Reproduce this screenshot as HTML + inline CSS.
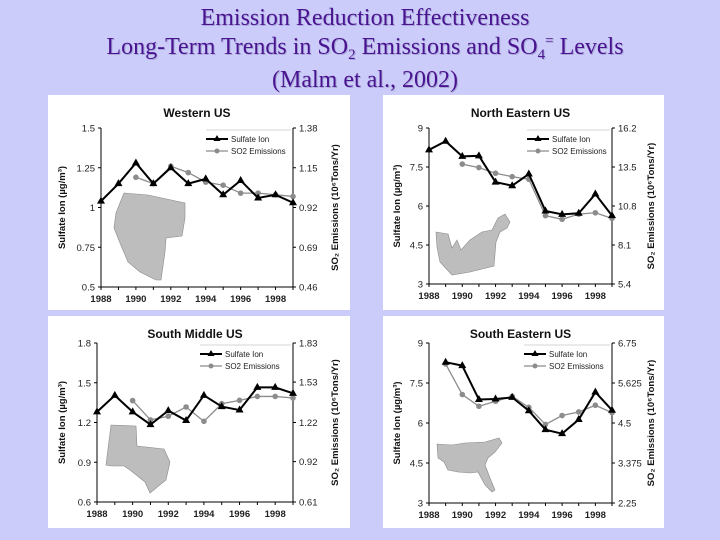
<!DOCTYPE html>
<html><head><meta charset="utf-8"><style>
html,body{margin:0;padding:0;background:#ccccfa;}
#wrap{position:relative;width:720px;height:540px;overflow:hidden;background:#ccccfa;}
.t{position:absolute;left:0;width:730px;height:28px;text-align:center;font-family:"Liberation Serif",serif;font-size:24px;line-height:28px;color:#4a1490;text-shadow:1px 1px 0 #a8a8d8;}
.t .sb{font-size:15px;position:relative;vertical-align:baseline;line-height:0;top:5px;}
.t .sp{font-size:15px;position:relative;vertical-align:baseline;line-height:0;top:-9px;}
svg text{font-family:"Liberation Sans",sans-serif;}
</style></head><body>
<div id="wrap">
<div class="t" style="top:4px">Emission Reduction Effectiveness</div>
<div class="t" style="top:33px">Long-Term Trends in SO<span class="sb">2</span> Emissions and SO<span class="sb">4</span><span class="sp">=</span> Levels</div>
<div class="t" style="top:66px">(Malm et al., 2002)</div>
<svg id="chart" width="720" height="540" style="position:absolute;left:0;top:0"></svg>
</div>
<script>
const years=[1988,1989,1990,1991,1992,1993,1994,1995,1996,1997,1998,1999];
const xTicks=[1988,1990,1992,1994,1996,1998];
// Western
const wSulfate=[1.04,1.15,1.28,1.15,1.25,1.15,1.18,1.08,1.17,1.06,1.08,1.03];
const wSO2=[null,null,1.095,1.058,1.159,1.122,1.067,1.049,1.003,1.003,0.994,0.984];
const wLeftTicks=[0.5,0.75,1,1.25,1.5];
const wRightTicks=[0.46,0.69,0.92,1.15,1.38];
// North Eastern
const neSulfate=[8.16,8.49,7.91,7.93,6.92,6.78,7.23,5.81,5.68,5.72,6.46,5.63];
const neSO2=[null,null,13.70,13.46,13.07,12.83,12.65,10.13,9.88,10.24,10.33,9.94];
const neLeftTicks=[3,4.5,6,7.5,9];
const neRightTicks=[5.4,8.1,10.8,13.5,16.2];
// South Middle
const smSulfate=[1.28,1.405,1.28,1.184,1.29,1.215,1.405,1.32,1.294,1.465,1.465,1.42];
const smSO2=[null,null,1.388,1.240,1.268,1.339,1.229,1.364,1.390,1.420,1.420,1.408];
const smLeftTicks=[0.6,0.9,1.2,1.5,1.8];
const smRightTicks=[0.61,0.92,1.22,1.53,1.83];
// South Eastern
const seSulfate=[null,8.28,8.15,6.88,6.9,6.96,6.46,5.75,5.6,6.13,7.16,6.48];
const seSO2=[null,6.16,5.30,4.97,5.11,5.25,4.94,4.46,4.71,4.81,5.00,4.79];
const seLeftTicks=[3,4.5,6,7.5,9];
const seRightTicks=[2.25,3.375,4.5,5.625,6.75];

const NS="http://www.w3.org/2000/svg";
const svg=document.getElementById('chart');
function mk(tag,attrs,parent){const e=document.createElementNS(NS,tag);for(const k in attrs)e.setAttribute(k,attrs[k]);(parent||svg).appendChild(e);return e;}
function txt(s,attrs,parent){const e=mk('text',attrs,parent);e.textContent=s;return e;}

function panel(o){
  const g=mk('g',{});
  
  
  const bg=mk('rect',{x:o.bx,y:o.by,width:o.bw,height:o.bh,fill:'#fff'},g);
  
  
  const L=o.x0,R=o.x1,T=o.y0,B=o.y1;
  const lmin=o.lt[0],lmax=o.lt[o.lt.length-1],rmin=o.rt[0],rmax=o.rt[o.rt.length-1];
  const xs=y=>L+(y-1988)/(1999-1988)*(R-L);
  const yl=v=>B-(v-lmin)/(lmax-lmin)*(B-T);
  const yr=v=>B-(v-rmin)/(rmax-rmin)*(B-T);
  const m=mk('polygon',{points:o.map,fill:'#bdbdbd',stroke:'#8a8a8a','stroke-width':0.6},g);
  
  
  const tt=txt(o.title,{x:(L+R)/2,y:o.by+22,'text-anchor':'middle','font-size':12,'font-weight':'bold',fill:'#111'},g);
  
  
  mk('line',{x1:L,y1:T,x2:L,y2:B,stroke:'#000','stroke-width':1},g);
  mk('line',{x1:R,y1:T,x2:R,y2:B,stroke:'#000','stroke-width':1},g);
  mk('line',{x1:L,y1:B,x2:R,y2:B,stroke:'#000','stroke-width':1},g);
  o.lt.forEach(v=>{const y=yl(v);mk('line',{x1:L-3,y1:y,x2:L,y2:y,stroke:'#000'},g);
    const e=txt(String(v),{x:L-6,y:y+3.5,'text-anchor':'end','font-size':9.5,fill:'#222'},g);
    });
  o.rt.forEach(v=>{const y=yr(v);mk('line',{x1:R,y1:y,x2:R+3,y2:y,stroke:'#000'},g);
    const e=txt(String(v),{x:R+6,y:y+3.5,'font-size':9.5,fill:'#222'},g);
    });
  years.forEach(yv=>{mk('line',{x1:xs(yv),y1:B,x2:xs(yv),y2:B+3,stroke:'#000'},g);});
  xTicks.forEach(yv=>{const e=txt(String(yv),{x:xs(yv),y:B+15,'text-anchor':'middle','font-size':9.5,'font-weight':'bold',fill:'#222'},g);
    });
  const ly=txt('Sulfate Ion (\u00b5g/m\u00b3)',{transform:`translate(${o.ylx},${(T+B)/2}) rotate(-90)`,'text-anchor':'middle','font-size':9.5,'font-weight':'bold',fill:'#111'},g);
  
  const ry=txt('SO\u2082 Emissions (10\u2076Tons/Yr)',{transform:`translate(${o.yrx},${(T+B)/2}) rotate(-90)`,'text-anchor':'middle','font-size':9.5,'font-weight':'bold',fill:'#111'},g);
  
  let pts=[];o.so2.forEach((v,i)=>{if(v!=null)pts.push([xs(years[i]),yr(v)]);});
  const sl=mk('polyline',{points:pts.map(p=>p.join(',')).join(' '),fill:'none',stroke:'#8c8c8c','stroke-width':1.3},g);
  
  pts.forEach(p=>{const c=mk('circle',{cx:p[0],cy:p[1],r:2.8,fill:'#8c8c8c'},g);
    });
  pts=[];o.sul.forEach((v,i)=>{if(v!=null)pts.push([xs(years[i]),yl(v)]);});
  const bl=mk('polyline',{points:pts.map(p=>p.join(',')).join(' '),fill:'none',stroke:'#000','stroke-width':2},g);
  
  pts.forEach(p=>{const c=mk('polygon',{points:`${p[0]},${p[1]-4.5} ${p[0]-4},${p[1]+2.5} ${p[0]+4},${p[1]+2.5}`,fill:'#000'},g);
    });
  const lx=o.lgx,lyy=T+6;
  const lg=mk('g',{},g);
  
  mk('line',{x1:lx,y1:T+2,x2:R-2,y2:T+2,stroke:'#aaa','stroke-width':0.6},lg);
  mk('line',{x1:lx,y1:lyy+5,x2:lx+22,y2:lyy+5,stroke:'#000','stroke-width':2},lg);
  mk('polygon',{points:`${lx+11},${lyy+1} ${lx+7.5},${lyy+7} ${lx+14.5},${lyy+7}`,fill:'#000'},lg);
  txt('Sulfate Ion',{x:lx+25,y:lyy+8,'font-size':8,fill:'#222'},lg);
  mk('line',{x1:lx,y1:lyy+17,x2:lx+22,y2:lyy+17,stroke:'#8c8c8c','stroke-width':1.2},lg);
  mk('circle',{cx:lx+11,cy:lyy+17,r:2.5,fill:'#8c8c8c'},lg);
  txt('SO2 Emissions',{x:lx+25,y:lyy+20,'font-size':8,fill:'#222'},lg);
}
panel({key:'western-us',title:'Western US',bx:48,by:95,bw:302,bh:215,x0:101,x1:293,y0:128,y1:287,lt:wLeftTicks,rt:wRightTicks,rd:2,sul:wSulfate,so2:wSO2,ylx:65,yrx:338,lgx:206,
  map:'124,193 148,195 185,203 185,218 182,236 166,238 165,252 161,280 156,280 140,272 128,262 120,243 114,228 116,213'});
panel({key:'north-eastern-us',title:'North Eastern US',bx:383,by:95,bw:281,bh:215,x0:429,x1:612,y0:128,y1:284,lt:neLeftTicks,rt:neRightTicks,rd:1,sul:neSulfate,so2:neSO2,ylx:400,yrx:654,lgx:527,
  map:'436,232 448,234 452,248 457,240 461,250 470,240 482,232 492,230 498,218 505,214 510,222 507,228 500,232 496,242 494,266 470,272 452,275 440,262 437,247'});
panel({key:'south-middle-us',title:'South Middle US',bx:48,by:316,bw:302,bh:212,x0:97,x1:293,y0:343,y1:502,lt:smLeftTicks,rt:smRightTicks,rd:2,sul:smSulfate,so2:smSO2,ylx:65,yrx:338,lgx:200,
  map:'111,425 136,426 137,446 164,449 170,462 166,480 150,493 145,482 130,470 124,466 111,466 106,465'});
panel({key:'south-eastern-us',title:'South Eastern US',bx:383,by:316,bw:281,bh:212,x0:429,x1:612,y0:343,y1:503,lt:seLeftTicks,rt:seRightTicks,rd:3,sul:seSulfate,so2:seSO2,ylx:400,yrx:654,lgx:524,
  map:'437,444 452,445 465,443 485,442 499,438 502,443 495,452 488,458 485,465 490,478 495,490 492,492 485,485 478,472 470,473 458,472 448,470 444,462 438,458'});
</script>
</body></html>
